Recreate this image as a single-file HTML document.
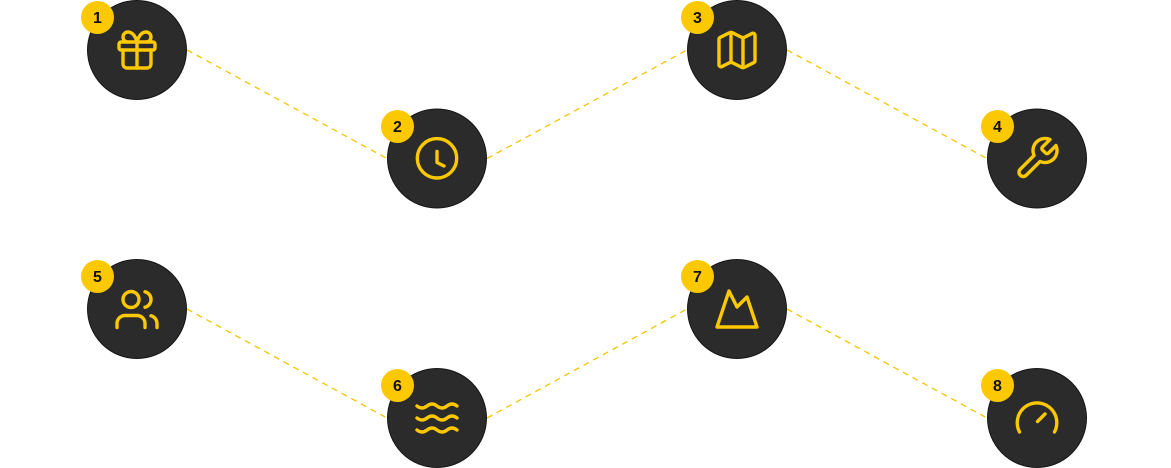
<!DOCTYPE html>
<html>
<head>
<meta charset="utf-8">
<style>
  html,body{margin:0;padding:0;background:#fff;}
  body{width:1171px;height:468px;overflow:hidden;}
  svg{display:block;}
  .num{font-family:"Liberation Sans",sans-serif;font-weight:bold;font-size:16px;fill:#111;}
</style>
</head>
<body>
<svg width="1171" height="468" viewBox="0 0 1171 468" xmlns="http://www.w3.org/2000/svg">
  <!-- connectors -->
  <g stroke="#f5c400" stroke-width="1.3" stroke-dasharray="6 5" fill="none">
    <line x1="187" y1="50" x2="387" y2="158.5"/>
    <line x1="487" y1="158.5" x2="687" y2="50"/>
    <line x1="787" y1="50" x2="987" y2="158.5"/>
    <line x1="187" y1="309" x2="387" y2="418"/>
    <line x1="487" y1="418" x2="687" y2="309"/>
    <line x1="787" y1="309" x2="987" y2="418"/>
  </g>

  <!-- circles -->
  <g fill="#2b2b2b" stroke="#151515" stroke-width="1">
    <circle cx="137" cy="50" r="49.5"/>
    <circle cx="437" cy="158.5" r="49.5"/>
    <circle cx="737" cy="50" r="49.5"/>
    <circle cx="1037" cy="158.5" r="49.5"/>
    <circle cx="137" cy="309" r="49.5"/>
    <circle cx="437" cy="418" r="49.5"/>
    <circle cx="737" cy="309" r="49.5"/>
    <circle cx="1037" cy="418" r="49.5"/>
  </g>

  <!-- icons -->
  <g fill="none" stroke="#fcc800" stroke-width="1.7" stroke-linecap="round" stroke-linejoin="round">
    <!-- 1 gift -->
    <g transform="translate(113,26) scale(2)">
      <rect x="3" y="8" width="18" height="4" rx="1"/>
      <path d="M12 8v13"/>
      <path d="M19 12v7a2 2 0 0 1-2 2H7a2 2 0 0 1-2-2v-7"/>
      <path d="M7.5 8a2.5 2.5 0 0 1 0-5A4.8 8 0 0 1 12 8a4.8 8 0 0 1 4.5-5 2.5 2.5 0 0 1 0 5"/>
    </g>
    <!-- 3 map -->
    <g transform="translate(713,26) scale(2)">
      <path d="M14.106 5.553a2 2 0 0 0 1.788 0l3.659-1.83A1 1 0 0 1 21 4.619v12.764a1 1 0 0 1-.553.894l-4.553 2.277a2 2 0 0 1-1.788 0l-4.212-2.106a2 2 0 0 0-1.788 0l-3.659 1.83A1 1 0 0 1 3 19.381V6.618a1 1 0 0 1 .553-.894l4.553-2.277a2 2 0 0 1 1.788 0z"/>
      <path d="M15 5.764v15"/>
      <path d="M9 3.236v15"/>
    </g>
    <!-- 4 wrench -->
    <g transform="translate(1013,134.5) scale(2)">
      <path d="M14.7 6.3a1 1 0 0 0 0 1.4l1.6 1.6a1 1 0 0 0 1.4 0l3.77-3.77a6 6 0 0 1-7.94 7.940l-6.91 6.91a2.12 2.12 0 0 1-3-3l6.91-6.91a6 6 0 0 1 7.94-7.94l-3.76 3.76z"/>
    </g>
    <!-- 5 users -->
    <g transform="translate(113,285.5) scale(2)">
      <path d="M16 21v-2a4 4 0 0 0-4-4H6a4 4 0 0 0-4 4v2"/>
      <circle cx="9" cy="7" r="4"/>
      <path d="M22 21v-2a4 4 0 0 0-3-3.87"/>
      <path d="M16 3.13a4 4 0 0 1 0 7.75"/>
    </g>
    <!-- 6 waves -->
    <g transform="translate(413,394) scale(2)">
      <path d="M2 6c.6.5 1.2 1 2.5 1C7 7 7 5 9.5 5c2.6 0 2.4 2 5 2 2.5 0 2.5-2 5-2 1.3 0 1.9.5 2.5 1"/>
      <path d="M2 12c.6.5 1.2 1 2.5 1 2.5 0 2.5-2 5-2 2.6 0 2.4 2 5 2 2.5 0 2.5-2 5-2 1.3 0 1.9.5 2.5 1"/>
      <path d="M2 18c.6.5 1.2 1 2.5 1 2.5 0 2.5-2 5-2 2.6 0 2.4 2 5 2 2.5 0 2.5-2 5-2 1.3 0 1.9.5 2.5 1"/>
    </g>
    <!-- 7 mountain -->
    <g transform="translate(713,285) scale(2)">
      <path d="m8 3 4 8 5-5 5 15H2L8 3z"/>
    </g>
  </g>
  <g fill="none" stroke="#fcc800" stroke-width="3.4" stroke-linecap="round" stroke-linejoin="round">
    <!-- 2 clock -->
    <circle cx="437" cy="158.3" r="19.7"/>
    <path d="M437 151.5V162.5L444 166"/>
    <!-- 8 gauge -->
    <path d="M1019.5 432A19.8 19.8 0 1 1 1054.5 432"/>
    <path d="M1037.5 421.5L1045 414"/>
  </g>

  <!-- badges -->
  <g fill="#fcc800">
    <circle cx="97.5" cy="17.5" r="16.5"/>
    <circle cx="397.5" cy="126.5" r="16.5"/>
    <circle cx="697.5" cy="17.5" r="16.5"/>
    <circle cx="997.5" cy="126.5" r="16.5"/>
    <circle cx="97.5" cy="276.5" r="16.5"/>
    <circle cx="397.5" cy="385.5" r="16.5"/>
    <circle cx="697.5" cy="276.5" r="16.5"/>
    <circle cx="997.5" cy="385.5" r="16.5"/>
  </g>
  <g class="num" text-anchor="middle">
    <text x="97.5" y="23">1</text>
    <text x="397.5" y="132">2</text>
    <text x="697.5" y="23">3</text>
    <text x="997.5" y="132">4</text>
    <text x="97.5" y="282">5</text>
    <text x="397.5" y="391">6</text>
    <text x="697.5" y="282">7</text>
    <text x="997.5" y="391">8</text>
  </g>
</svg>
</body>
</html>
